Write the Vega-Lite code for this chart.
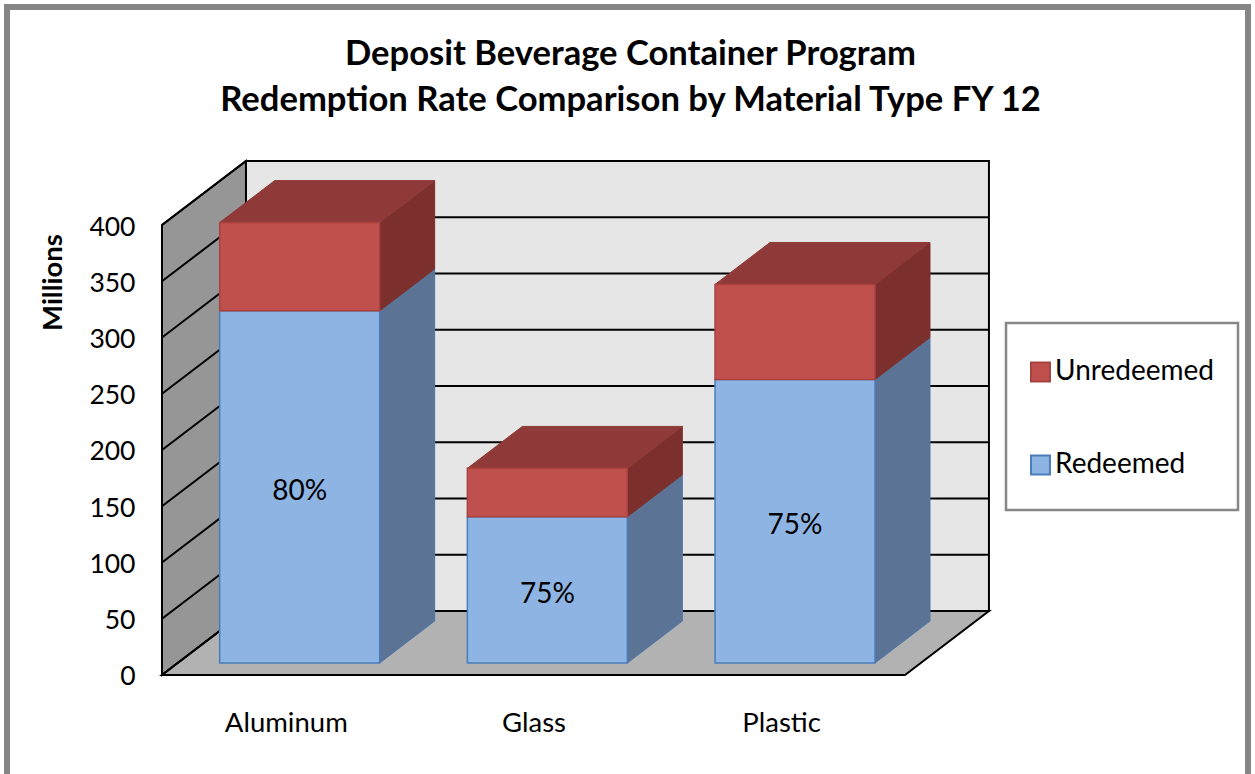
{
"$schema":"https://vega.github.io/schema/vega-lite/v6.json",
"width":1241,"height":770,
"autosize":"none",
"padding":{"left":7,"top":7,"right":7,"bottom":0},
"background":"#ffffff",
"view":{"fill":"#ffffff","stroke":"#868686","strokeWidth":6},
"config":{"font":"Lato","legend":{"strokeWidth":2.5}},
"title":{"text":["Deposit Beverage Container Program","Redemption Rate Comparison by Material Type FY 12"],"font":"Lato","fontSize":34.6,"fontWeight":"bold","color":"#000000","anchor":"middle","dx":3,"offset":-112,"lineHeight":46},
"datasets":{
"bars":[
{"material":"Aluminum","status":"Redeemed","millions":313,"label":"80%"},
{"material":"Aluminum","status":"Unredeemed","millions":78.5},
{"material":"Glass","status":"Redeemed","millions":130,"label":"75%"},
{"material":"Glass","status":"Unredeemed","millions":43},
{"material":"Plastic","status":"Redeemed","millions":252,"label":"75%"},
{"material":"Plastic","status":"Unredeemed","millions":84.5}
],
"ticks":[{"tick":0},{"tick":50},{"tick":100},{"tick":150},{"tick":200},{"tick":250},{"tick":300},{"tick":350},{"tick":400}],
"room":[{"room":"walls"}]
},
"layer":[
{"data":{"name":"room"},
"mark":{"type":"rect","fill":"#e6e6e6","stroke":"#000000","strokeWidth":2},
"encoding":{
"x":{"datum":0.839,"type":"quantitative","scale":{"domain":[-0.1258,4.885],"nice":false,"zero":false},"axis":{"orient":"bottom","offset":-68,"values":[1,2,3],"labelExpr":"['','Aluminum','Glass','Plastic'][datum.value]","labelFontSize":27.5,"labelFont":"Lato","labelColor":"#000000","labelAngle":0,"ticks":false,"domain":false,"grid":false,"title":null,"labelPadding":0}},
"x2":{"datum":3.839},
"y":{"datum":56.9,"type":"quantitative","scale":{"domain":[-90.67,593.78],"nice":false,"zero":false},"axis":{"orient":"left","offset":-155,"values":[0,50,100,150,200,250,300,350,400],"labelFontSize":26.5,"labelFont":"Lato","labelColor":"#000000","labelPadding":27,"labelOffset":2,"ticks":false,"domain":false,"grid":false,"title":"Millions","titleFontSize":27.5,"titleFont":"Lato","titleFontWeight":"bold","titleColor":"#000000","titleX":-95,"titleY":275,"titleAngle":270}},
"y2":{"datum":456.9}
}},
{"data":{"name":"room"},
"transform":[{"calculate":"[0.5,0.839]","as":"xs"},{"calculate":"[0,56.9]","as":"lo"},{"calculate":"[400,456.9]","as":"hi"},{"flatten":["xs","lo","hi"]}],
"mark":{"type":"area","fill":"#969696","stroke":"#000000","strokeWidth":2},
"encoding":{"x":{"field":"xs","type":"quantitative"},"y":{"field":"lo","type":"quantitative","stack":null},"y2":{"field":"hi"}}},
{"data":{"name":"room"},
"transform":[{"calculate":"[0,56.9]","as":"ys"},{"calculate":"[0.5,0.839]","as":"xa"},{"calculate":"[3.5,3.839]","as":"xb"},{"flatten":["ys","xa","xb"]}],
"mark":{"type":"area","orient":"horizontal","fill":"#b2b2b2","stroke":"#000000","strokeWidth":2},
"encoding":{"y":{"field":"ys","type":"quantitative"},"x":{"field":"xa","type":"quantitative","stack":null},"x2":{"field":"xb"}}},
{"data":{"name":"ticks"},
"transform":[{"calculate":"datum.tick+56.9","as":"yy"}],
"mark":{"type":"rule","stroke":"#000000","strokeWidth":2},
"encoding":{"x":{"datum":0.839,"type":"quantitative"},"x2":{"datum":3.839},"y":{"field":"yy","type":"quantitative"}}},
{"data":{"name":"ticks"},
"transform":[{"calculate":"[0.5,0.839]","as":"xs"},{"calculate":"[datum.tick,datum.tick+56.9]","as":"ys"},{"flatten":["xs","ys"]}],
"mark":{"type":"line","stroke":"#000000","strokeWidth":2},
"encoding":{"x":{"field":"xs","type":"quantitative"},"y":{"field":"ys","type":"quantitative"},"detail":{"field":"tick"}}},
{"data":{"name":"bars"},
"transform":[
{"stack":"millions","groupby":["material"],"sort":[{"field":"status","order":"ascending"}],"as":["v0","v1"]},
{"calculate":"indexof(['Aluminum','Glass','Plastic'],datum.material)+1","as":"idx"},
{"calculate":"datum.material+datum.status","as":"key"},
{"calculate":"datum.idx+0.379","as":"xr"},
{"calculate":"[datum.xr,datum.xr+0.222]","as":"xs"},
{"calculate":"[datum.v0+10.67,datum.v0+47.97]","as":"lo"},
{"calculate":"[datum.v1+10.67,datum.v1+47.97]","as":"hi"},
{"flatten":["xs","lo","hi"]}],
"mark":{"type":"area","strokeWidth":1,"strokeJoin":"round"},
"encoding":{
"x":{"field":"xs","type":"quantitative"},
"y":{"field":"lo","type":"quantitative","stack":null},
"y2":{"field":"hi"},
"detail":{"field":"key"},
"fill":{"condition":{"test":"datum.status==='Redeemed'","value":"#5b7495"},"value":"#7b302e"},
"stroke":{"condition":{"test":"datum.status==='Redeemed'","value":"#4f76a8"},"value":"#7b302e"}
}},
{"data":{"name":"bars"},
"transform":[
{"stack":"millions","groupby":["material"],"sort":[{"field":"status","order":"ascending"}],"as":["v0","v1"]},
{"filter":"datum.status==='Unredeemed'"},
{"calculate":"indexof(['Aluminum','Glass','Plastic'],datum.material)+1","as":"idx"},
{"calculate":"[datum.v1+10.67,datum.v1+47.97]","as":"ys"},
{"calculate":"[datum.idx-0.267,datum.idx-0.045]","as":"xa"},
{"calculate":"[datum.idx+0.379,datum.idx+0.601]","as":"xb"},
{"flatten":["ys","xa","xb"]}],
"mark":{"type":"area","orient":"horizontal","fill":"#8f3a38","stroke":"#8f3a38","strokeWidth":1},
"encoding":{
"y":{"field":"ys","type":"quantitative"},
"x":{"field":"xa","type":"quantitative","stack":null},
"x2":{"field":"xb"},
"detail":{"field":"material"}
}},
{"data":{"name":"bars"},
"transform":[
{"stack":"millions","groupby":["material"],"sort":[{"field":"status","order":"ascending"}],"as":["v0","v1"]},
{"calculate":"indexof(['Aluminum','Glass','Plastic'],datum.material)+1","as":"idx"},
{"calculate":"datum.idx-0.267","as":"xl"},
{"calculate":"datum.idx+0.379","as":"xr"},
{"calculate":"datum.v0+10.67","as":"yb"},
{"calculate":"datum.v1+10.67","as":"yt"}],
"mark":{"type":"rect","strokeWidth":1.5},
"encoding":{
"x":{"field":"xl","type":"quantitative"},
"x2":{"field":"xr"},
"y":{"field":"yb","type":"quantitative"},
"y2":{"field":"yt"},
"fill":{"field":"status","type":"nominal","scale":{"domain":["Unredeemed","Redeemed"],"range":["#c0504d","#8eb4e3"]},
"legend":{"orient":"none","legendX":999,"legendY":316,"title":null,"fillColor":"#ffffff","strokeColor":"#868686","padding":24,"labelFont":"Lato","labelFontSize":28,"labelColor":"#000000","symbolType":"M-1,-0.4H-0.21V0.4H-1ZM-1,0.68L-1,0.68Z","symbolSize":2304,"symbolStrokeWidth":2,"labelOffset":-25,"rowPadding":47}},
"stroke":{"field":"status","type":"nominal","scale":{"domain":["Unredeemed","Redeemed"],"range":["#a8423f","#4a7ebb"]}}
}},
{"data":{"name":"bars"},
"transform":[
{"stack":"millions","groupby":["material"],"sort":[{"field":"status","order":"ascending"}],"as":["v0","v1"]},
{"filter":"datum.status==='Redeemed'"},
{"calculate":"indexof(['Aluminum','Glass','Plastic'],datum.material)+1.056","as":"xc"},
{"calculate":"(datum.v0+datum.v1)/2+10.67","as":"yc"}],
"mark":{"type":"text","font":"Lato","fontSize":28,"color":"#000000","dy":5},
"encoding":{
"x":{"field":"xc","type":"quantitative"},
"y":{"field":"yc","type":"quantitative"},
"text":{"field":"label","type":"nominal"}
}}
]
}
